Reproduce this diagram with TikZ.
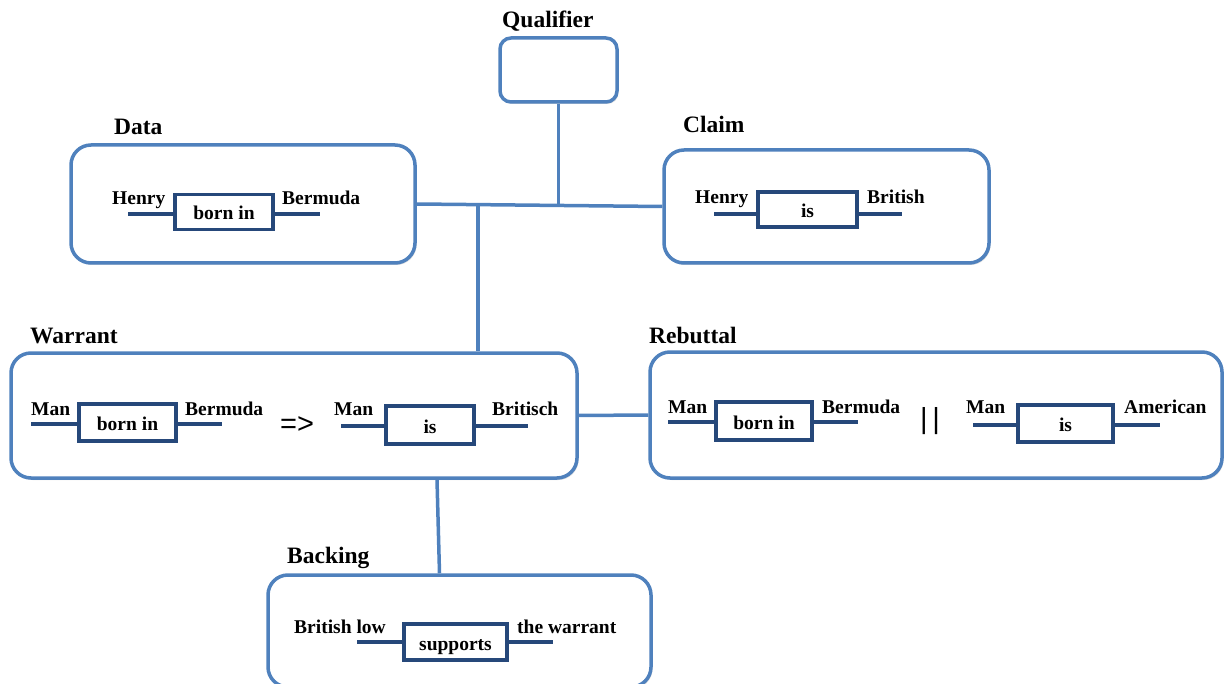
\documentclass[tikz,border=0pt]{standalone}
\usepackage{fontspec}
\setmainfont{Liberation Serif}
\newfontfamily\symfont{Liberation Sans}
\usetikzlibrary{shadows}
\definecolor{outerblue}{RGB}{79,129,189}
\definecolor{innerblue}{RGB}{38,72,122}
\tikzset{
  outerbox/.style={draw=outerblue, line width=3.5pt, rounded corners=20pt, fill=white, inner sep=0pt,
    drop shadow={opacity=0.25, shadow xshift=1.5pt, shadow yshift=-2pt}},
  relbox/.style={draw=innerblue, line width=3.5pt, fill=white, inner sep=0pt,
    text height=16pt, text depth=0pt,
    font=\bfseries\fontsize{19.5}{22}\selectfont,
    drop shadow={opacity=0.25, shadow xshift=1.2pt, shadow yshift=-1.5pt}},
  relline/.style={draw=innerblue, line width=4pt},
  lbl/.style={anchor=base west, inner sep=0pt, font=\bfseries\fontsize{19.5}{22}\selectfont},
  hdr/.style={anchor=base west, inner sep=0pt, font=\bfseries\fontsize{23.5}{26}\selectfont},
  conn/.style={draw=outerblue, line width=3.5pt},
  sym/.style={inner sep=0pt, font=\symfont\fontsize{29}{32}\selectfont}
}
\begin{document}
\begin{tikzpicture}[x=1pt,y=-1pt]
\useasboundingbox (0,0) rectangle (1225,684);

% headers
\node[hdr] (hq) at (502,28) {Qualifier};
\node[hdr] (hd) at (114,135) {Data};
\node[hdr] (hc) at (683,133) {Claim};
\node[hdr] (hw) at (30,343) {Warrant};
\node[hdr] (hr) at (649,343) {Rebuttal};
\node[hdr] (hb) at (287,563) {Backing};

\coordinate (jq) at (558.5,205.5);
\coordinate (jw) at (478,204.8);

% outer boxes
\node[outerbox, rounded corners=11pt, minimum width=117, minimum height=64] (qual) at (558.5,70) {};
\node[outerbox, minimum width=344, minimum height=118] (data) at (243,204) {};
\node[outerbox, minimum width=325, minimum height=113] (claim) at (826.5,206.5) {};
\node[outerbox, minimum width=566, minimum height=125] (warrant) at (294,415.5) {};
\node[outerbox, minimum width=572, minimum height=126] (rebut) at (936,415) {};
\node[outerbox, minimum width=383, minimum height=112] (backing) at (459.5,631) {};

% connectors
\draw[conn] (data.east) -- (claim.west);
\draw[conn] (qual.south) -- (jq);
\draw[conn] (jw) -- (jw |- warrant.north);
\draw[conn] (warrant.east) -- (rebut.west);
\draw[conn] ([xshift=143pt]warrant.south) -- ([xshift=-20pt]backing.north);

% Data widget
\node[relbox, minimum width=98, minimum height=35] (dR) at (224,212) {born in};
\coordinate (dL) at (128,214); \coordinate (dE) at (320,214);
\draw[relline] (dL) -- (dL -| dR.west);
\draw[relline] (dE -| dR.east) -- (dE);
\node[lbl] (dA) at (112,205) {Henry};
\node[lbl] (dB) at (282,205) {Bermuda};

% Claim widget
\node[relbox, minimum width=99, minimum height=35] (cR) at (807.5,209.5) {is};
\coordinate (cL) at (714,214); \coordinate (cE) at (902,214);
\draw[relline] (cL) -- (cL -| cR.west);
\draw[relline] (cE -| cR.east) -- (cE);
\node[lbl] (cA) at (695,204) {Henry};
\node[lbl] (cB) at (867,204) {British};

% Warrant widgets
\node[relbox, minimum width=97, minimum height=37] (w1R) at (127.5,422.5) {born in};
\coordinate (w1L) at (31,424); \coordinate (w1E) at (222,424);
\draw[relline] (w1L) -- (w1L -| w1R.west);
\draw[relline] (w1E -| w1R.east) -- (w1E);
\node[lbl] (w1A) at (31,415) {Man};
\node[lbl] (w1B) at (185,415) {Bermuda};
\node[sym] (imp) at (297,425) {=>};
\node[relbox, minimum width=88, minimum height=38] (w2R) at (430,425) {is};
\coordinate (w2L) at (341,426); \coordinate (w2E) at (528,426);
\draw[relline] (w2L) -- (w2L -| w2R.west);
\draw[relline] (w2E -| w2R.east) -- (w2E);
\node[lbl] (w2A) at (334,415) {Man};
\node[lbl] (w2B) at (492,415) {Britisch};

% Rebuttal widgets
\node[relbox, minimum width=96, minimum height=38] (r1R) at (764,421) {born in};
\coordinate (r1L) at (668,422); \coordinate (r1E) at (858,422);
\draw[relline] (r1L) -- (r1L -| r1R.west);
\draw[relline] (r1E -| r1R.east) -- (r1E);
\node[lbl] (r1A) at (668,413) {Man};
\node[lbl] (r1B) at (822,413) {Bermuda};
\node[sym] (orsym) at (930,421) {|\,|};
\node[relbox, minimum width=95, minimum height=37] (r2R) at (1065.5,423.5) {is};
\coordinate (r2L) at (973,425); \coordinate (r2E) at (1160,425);
\draw[relline] (r2L) -- (r2L -| r2R.west);
\draw[relline] (r2E -| r2R.east) -- (r2E);
\node[lbl] (r2A) at (966,413) {Man};
\node[lbl] (r2B) at (1124,413) {American};

% Backing widget
\node[relbox, minimum width=103, minimum height=36] (bR) at (455.5,642) {supports};
\coordinate (bL) at (357,642); \coordinate (bE) at (553,642);
\draw[relline] (bL) -- (bL -| bR.west);
\draw[relline] (bE -| bR.east) -- (bE);
\node[lbl] (bA) at (294,633) {British low};
\node[lbl] (bB) at (517,633) {the warrant};
\end{tikzpicture}
\end{document}
